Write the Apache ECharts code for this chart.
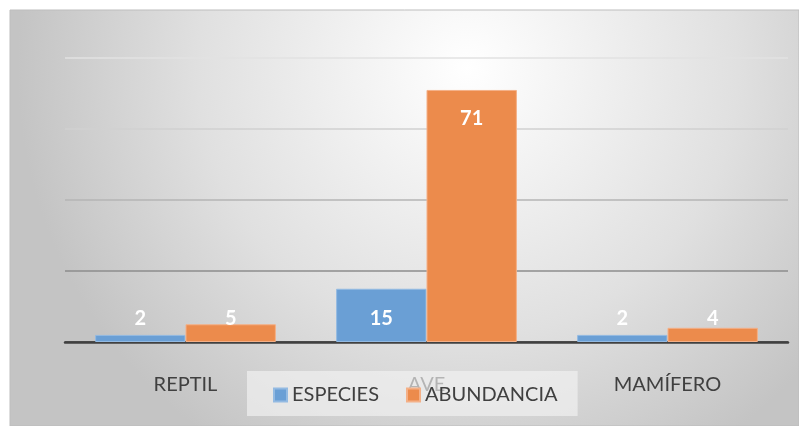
<!DOCTYPE html>
<html>
<head>
<meta charset="utf-8">
<script src="https://cdn.jsdelivr.net/npm/echarts@6/dist/echarts.min.js"></script>
<style>
  html, body { margin: 0; padding: 0; background: #ffffff; }
  #chart { width: 799px; height: 426px; }
</style>
</head>
<body>
<div id="chart"></div>
<script>
// Grupos de fauna registrados
const categories = ['REPTIL', 'AVE', 'MAMÍFERO'];
const especies = [2, 15, 2];
const abundancia = [5, 71, 4];
const seriesNames = ['ESPECIES', 'ABUNDANCIA'];

const FONT = 'Lato, "Open Sans", sans-serif';

// Tall bars carry their value near the top; short ones just above the base
function withLabels(values) {
  return values.map(v => ({
    value: v,
    label: v > 30
      ? { position: 'insideTop', distance: 19 }
      : { position: 'insideBottom', distance: 13 }
  }));
}

const chart = echarts.init(document.getElementById('chart'), null, { renderer: 'canvas' });

chart.setOption({
  animation: false,
  graphic: [{
    type: 'rect',
    z: -10,
    silent: true,
    shape: { x: 10, y: 10, width: 789, height: 416 },
    style: {
      fill: {
        type: 'radial', x: 0.58, y: 0.14, r: 1.08,
        colorStops: [
          { offset: 0, color: '#ffffff' },
          { offset: 0.6, color: '#e0e0e0' },
          { offset: 1, color: '#c4c4c4' }
        ]
      },
      stroke: '#bdbdbd',
      lineWidth: 1
    }
  }],
  grid: { left: 65, right: 11, top: 58, bottom: 84, containLabel: false },
  legend: {
    data: seriesNames,
    left: 247,
    top: 371,
    padding: [14, 20, 11, 26],
    itemWidth: 13,
    itemHeight: 13,
    itemGap: 27,
    icon: 'rect',
    backgroundColor: 'rgba(242,242,242,0.65)',
    textStyle: { fontFamily: FONT, fontSize: 20, color: '#404040' }
  },
  xAxis: {
    type: 'category',
    data: categories,
    axisTick: { show: false },
    axisLine: { show: true, lineStyle: { color: '#404040', width: 2.5 } },
    axisLabel: { margin: 33, fontFamily: FONT, fontSize: 20, color: '#404040' }
  },
  yAxis: {
    type: 'value',
    min: 0,
    max: 80,
    interval: 20,
    axisLabel: { show: false },
    axisLine: { show: false },
    axisTick: { show: false },
    splitLine: {
      lineStyle: {
        width: 1.5,
        color: ['#404040', '#8c8c8c', '#b4b4b4', '#d0d0d0', '#e2e2e2']
      }
    }
  },
  series: [
    {
      name: seriesNames[0],
      type: 'bar',
      data: withLabels(especies),
      barGap: '0%',
      barCategoryGap: '25%',
      itemStyle: { color: '#6a9fd5', borderColor: '#93bae2', borderWidth: 1 },
      label: { show: true, color: '#ffffff', fontFamily: FONT, fontWeight: 'bold', fontSize: 20 }
    },
    {
      name: seriesNames[1],
      type: 'bar',
      data: withLabels(abundancia),
      barGap: '0%',
      barCategoryGap: '25%',
      itemStyle: { color: '#ec8b4c', borderColor: '#f4b087', borderWidth: 1 },
      label: { show: true, color: '#ffffff', fontFamily: FONT, fontWeight: 'bold', fontSize: 20 }
    }
  ]
});
</script>
</body>
</html>
